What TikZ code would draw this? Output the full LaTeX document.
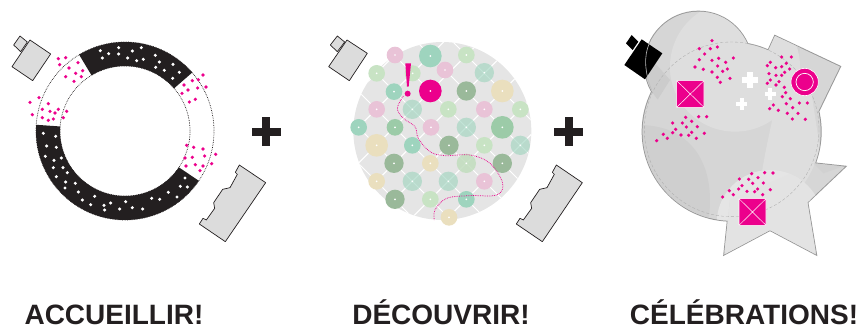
\documentclass[tikz,border=0pt]{standalone}
\usepackage{fontspec}
\setmainfont{Liberation Sans}
\definecolor{ink}{HTML}{231F20}
\definecolor{mag}{HTML}{EC008C}
\definecolor{bfill}{HTML}{DCDCDC}
\definecolor{pk}{HTML}{E9C3D7}
\definecolor{tl}{HTML}{9ED4BE}
\definecolor{lg}{HTML}{C8E3C4}
\definecolor{dg}{HTML}{9AB99A}
\definecolor{md}{HTML}{9CCBA8}
\definecolor{sd}{HTML}{EADFBE}
\definecolor{pt}{HTML}{9ED4BE}
\tikzset{
 bldg/.style={draw=ink,fill=bfill,line width=.7pt,line join=round},
 titlet/.style={font=\fontsize{28}{30}\selectfont\bfseries,text=ink,inner sep=0pt,anchor=base},
 zoomed/.style={x=.33333pt,y=-.33333pt},
 ringedge/.style={draw=ink,line width=.7pt,densely dotted},
}
\newcommand{\magdots}[1]{\foreach \a/\b in {#1} \fill[mag] (\a,\b) circle (5.4);}
\newcommand{\whdots}[1]{\foreach \a/\b in {#1} \fill[white] (\a,\b) circle (5.2);}
\newcommand{\plusmark}[2]{%
 \fill[ink] (#1-43,#2-12) rectangle (#1+44,#2+12);
 \fill[ink] (#1-12,#2-43) rectangle (#1+12,#2+43);}
\newcommand{\crossbox}[4]{%
 \filldraw[fill=mag,draw=white,line width=.6pt,rounded corners=.8pt] (#1,#2) rectangle (#3,#4);
 \draw[white,line width=.5pt] (#1,#2) -- (#3,#4) (#1,#4) -- (#3,#2);}
\begin{document}
\begin{tikzpicture}
\useasboundingbox (0,-326pt) rectangle (860pt,0);
%% PANEL 1
\begin{scope}[shift={(125pt,-131pt)}]
 \fill[ink] (41:89pt) arc (41:121:89pt) -- (121:65pt) arc (121:41:65pt) -- cycle;
 \fill[ink] (176:89pt) arc (176:326:89pt) -- (326:65pt) arc (326:176:65pt) -- cycle;
 \draw[ringedge] (0,0) circle (89pt);
 \draw[ringedge] (0,0) circle (65pt);
\end{scope}
\begin{scope}[shift={(0pt,-20pt)},zoomed]
 \whdots{301/92,356/83,424/83,326/101,356/102,397/93,307/114,383/114,410/122,430/118,466/106,478/126,467/142,519/133,493/151,538/157,518/175,
 130/340,167/349,140/378,169/382,136/409,184/414,162/421,160/443,189/443,202/458,169/470,197/486,226/490,195/504,235/516,284/529,247/540,272/554,312/556,332/549,314/570,359/567,377/545,397/563,428/567,455/535,479/538,505/517,531/531,541/499,562/501,555/474}
 \magdots{175/116,197/113,234/128,179/134,207/144,248/152,227/160,244/170,197/170,222/184,
 117/233,90/247,145/251,127/268,150/274,175/268,165/279,200/274,97/284,127/293,190/293,145/301,160/297,
 609/165,577/182,595/179,552/195,618/201,593/204,564/210,546/220,586/238,568/246,
 560/376,581/382,609/387,647/403,614/408,577/412,555/414,635/431,586/434,609/438,558/438,600/452}
 \draw[bldg] (60,48) -- (82,66) -- (62,95) -- (41,75) -- cycle;
 \draw[bldg] (90,60) -- (152,102) -- (98,182) -- (36,140) -- cycle;
 \draw[bldg] (718,435) -- (797,488) -- (676,665) -- (598,612) -- (609,595) -- (619,600) -- (644,565) -- (641,548) -- (668,508) -- (690,503) -- (712,463) -- (706,457) -- cycle;
 \plusmark{798}{335}
\end{scope}
%% PANEL 2
\begin{scope}[shift={(320pt,-20pt)},zoomed]
 \begin{scope}
  \clip (367,333) circle (267);
  \fill[black!10] (0,0) rectangle (800,700);
  \foreach \k in {-5,...,5} {
   \draw[white,line width=1pt] ({9+108*\k-100},-100) -- ({9+108*\k+800},800);
   \draw[white,line width=1pt] ({545+108*\k+100},-100) -- ({545+108*\k-800},800);
  }
 \end{scope}
 \foreach \a/\b/\c/\r in {225/105/pk/25,331/108/tl/34,439/105/lg/25,170/160/lg/25,278/160/lg/24,375/150/pk/25,
  222/215/tl/25,439/213/dg/29,547/213/sd/34,170/268/pk/25,385/268/lg/25,493/268/pk/25,601/268/lg/25,
  116/322/tl/25,225/322/md/25,333/322/pk/25,547/322/md/34,170/376/sd/34,277/376/tl/25,387/376/dg/29,493/376/lg/25,
  222/430/dg/29,331/430/sd/25,547/430/dg/29,170/484/sd/25,493/484/pk/25,225/538/dg/29,331/538/lg/25,439/538/tl/25,387/592/sd/25}
  {\fill[\c] (\a,\b) circle (\r);}
 \foreach \a/\b in {493/158,277/268,439/322,601/376,277/484,385/484}
  {\fill[pt,opacity=.62] (\a,\b) circle (29);}
 \fill[lg!85!dg,opacity=.85] (439,430) circle (29);
 \fill[mag] (331,213) circle (34);
 \foreach \a/\b in {225/105,331/108,439/105,170/160,278/160,375/150,493/158,222/215,331/213,439/213,547/213,170/268,277/268,385/268,493/268,601/268,116/322,225/322,333/322,439/322,547/322,170/376,277/376,387/376,493/376,601/376,222/430,331/430,439/430,547/430,170/484,277/484,385/484,493/484,225/538,331/538,439/538,387/592}
  {\fill[white] (\a,\b) circle (2.8);}
 \fill[mag] (256,130) -- (273,130) -- (266,200) -- (261,200) -- cycle;
 \fill[mag] (263,221) circle (9);
 \draw[mag,line width=.75pt,densely dotted] plot[smooth,tension=.6] coordinates {(250,228) (232,265) (250,295) (285,320) (295,355) (330,395) (375,407) (450,405) (510,430) (548,490) (530,525) (450,527) (380,535) (345,570) (343,600)};
 \draw[bldg] (52,48) -- (74,66) -- (52,95) -- (31,75) -- cycle;
 \draw[bldg] (81,60) -- (142,100) -- (88,182) -- (26,140) -- cycle;
 \draw[bldg] (709,435) -- (787,488) -- (667,665) -- (589,612) -- (600,595) -- (610,600) -- (635,565) -- (632,548) -- (659,508) -- (681,503) -- (703,463) -- (697,457) -- cycle;
 \plusmark{746}{335}
\end{scope}
%% PANEL 3
\begin{scope}[shift={(610pt,0pt)},zoomed]
 \def\topc{(265,195) circle (160)}
 \def\bigc{(365,395) circle (267)}
 \def\recta{(495,108) -- (690,200) -- (622,340) -- (430,250) -- cycle}
 \def\stara{(612,490) -- (705,500) -- (592,607) -- (618,763) -- (480,690) -- (343,763) -- (360,600) -- cycle}
 \draw[black!40,line width=2pt,line join=miter] \topc \bigc \recta \stara;
 \fill[black!16] \topc;
 \fill[black!16] \bigc;
 \fill[black!16] \recta;
 \fill[black!16] \stara;
 \begin{scope}
  \clip (90,30) rectangle (710,770);
  \begin{scope}
   \clip \topc;
   \fill[black!20] (95,375) -- (100,150) -- (180,240) -- cycle;
   \fill[black!13] (375,200) circle (195);
  \end{scope}
  \begin{scope}
   \clip \bigc;
   \fill[black!13] (375,200) circle (195);
   \fill[black!19] (95,375) .. controls (250,380) and (320,500) .. (295,665) -- (100,665) -- cycle;
   \fill[black!13] (440,660) .. controls (450,500) and (480,400) .. (510,250) -- (600,250) -- (635,480) -- (600,620) -- cycle;
   \fill[black!10] (480,670) circle (160);
  \end{scope}
  \begin{scope}
   \clip \recta;
   \fill[black!18] (520,120) -- (570,140) -- (560,240) -- (510,240) -- cycle;
   \fill[black!13] (375,200) circle (195);
  \end{scope}
  \begin{scope}
   \clip \stara;
   \fill[black!14] (330,600) rectangle (710,770);
   \fill[black!18] (600,480) -- (710,495) -- (640,520) -- cycle;
   \fill[black!11] (480,670) circle (160);
  \end{scope}
 \end{scope}
 \draw[black!32,line width=.35pt,densely dashed] (365,388) circle (262);
 \fill[black] (65,105) -- (85,125) -- (68,150) -- (48,130) -- cycle;
 \fill[black] (95,118) -- (157,160) -- (105,238) -- (43,195) -- cycle;
 \draw[black!25,line width=.6pt] (118,130) .. controls (100,170) and (105,220) .. (125,270);
 \crossbox{200}{242}{282}{322}
 \crossbox{387}{596}{468}{676}
 \filldraw[fill=mag,draw=white,line width=.6pt] (584,246) circle (41);
 \draw[white,line width=.7pt] (584,246) circle (26);
 \foreach \a/\b/\s/\w in {420/240/25/8,395/312/17/6,481/282/17/6}
  {\fill[white] (\a-\s,\b-\w) rectangle (\a+\s,\b+\w);
   \fill[white] (\a-\w,\b-\s) rectangle (\a+\w,\b+\s);}
 \magdots{306/122,322/141,301/146,268/146,284/162,306/181,326/175,370/174,347/187,268/179,255/201,280/208,323/198,352/207,338/214,306/216,322/232,360/235,331/247,
 515/171,544/171,481/187,472/197,529/190,515/200,497/203,539/207,477/221,498/226,515/226,524/217,481/240,472/250,507/245,498/255,523/262,527/278,517/290,541/296,568/309,592/309,529/311,548/323,490/315,479/326,505/331,532/340,564/340,547/357,586/358,
 227/352,266/350,290/350,188/369,217/369,245/364,229/381,262/380,197/388,188/398,245/397,236/406,213/405,283/400,160/403,172/415,140/422,259/415,
 425/521,464/518,489/519,444/533,388/537,416/538,428/550,460/549,396/557,386/567,358/572,370/584,338/591,443/567,434/575,411/574,481/569,458/584}
\end{scope}
%% TITLES
\node[titlet] (t1) at (114pt,-324.3pt) {ACCUEILLIR!};
\node[titlet] (t2) at (441pt,-324.3pt) {DÉCOUVRIR!};
\node[titlet] (t3) at (744pt,-324.3pt) {CÉLÉBRATIONS!};
\end{tikzpicture}
\end{document}
